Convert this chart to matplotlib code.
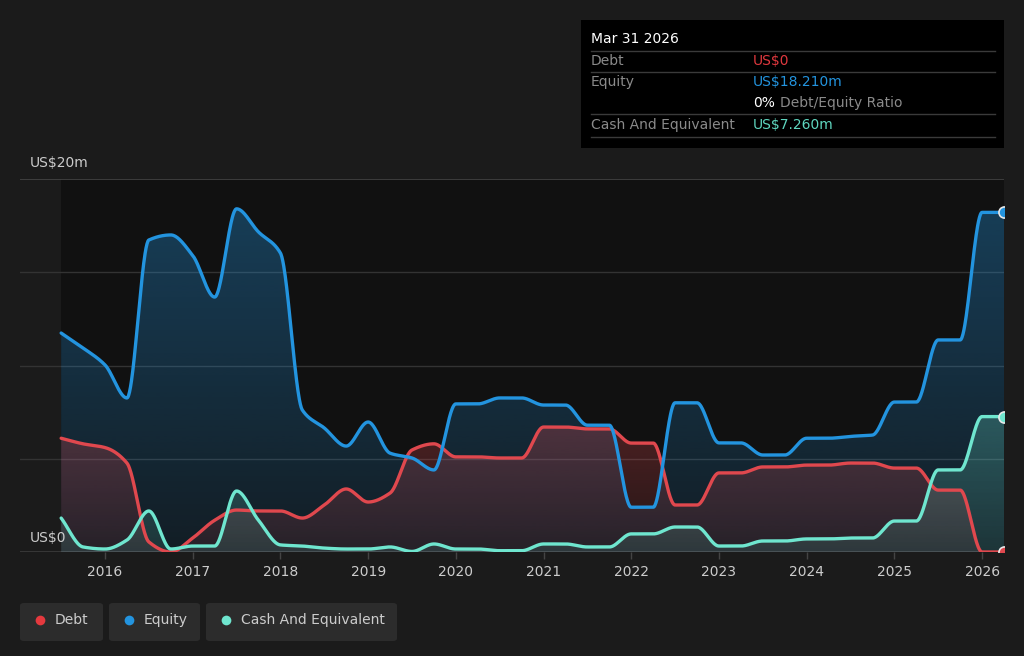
import numpy as np
import pandas as pd
import matplotlib
matplotlib.use("Agg")
import matplotlib.pyplot as plt
from matplotlib.colors import to_rgb
from matplotlib.patches import Rectangle, FancyBboxPatch
from matplotlib.lines import Line2D

# quarter ends, Jun 2015 .. Mar 2026
dates = pd.date_range("2015-06-30", "2026-03-31", freq="QE")

debt = [6.1, 5.8, 5.6, 4.77, 0.54, 0.0, 0.75, 1.7, 2.25, 2.2, 2.2, 1.82,
        2.52, 3.38, 2.68, 3.16, 5.47, 5.8, 5.1, 5.1, 5.04, 5.04, 6.7, 6.7,
        6.6, 6.6, 5.84, 5.84, 2.52, 2.52, 4.24, 4.24, 4.56, 4.56, 4.66, 4.66,
        4.77, 4.77, 4.5, 4.5, 3.32, 3.32, 0.0, 0.0]
equity = [11.74, 10.94, 10.03, 8.26, 16.73, 17.0, 15.9, 13.67, 18.4, 17.16,
          16.03, 7.61, 6.65, 5.68, 6.97, 5.3, 5.04, 4.4, 7.94, 7.94, 8.26, 8.26,
          7.88, 7.88, 6.8, 6.8, 2.4, 2.4, 8.0, 8.0, 5.85, 5.85, 5.2, 5.2, 6.1,
          6.1, 6.2, 6.27, 8.04, 8.04, 11.37, 11.37, 18.21, 18.21]
cash = [1.82, 0.27, 0.16, 0.64, 2.2, 0.16, 0.32, 0.32, 3.27, 1.7, 0.38, 0.32,
        0.21, 0.16, 0.16, 0.27, 0.03, 0.43, 0.16, 0.16, 0.07, 0.07, 0.43, 0.43,
        0.27, 0.27, 0.97, 0.97, 1.34, 1.34, 0.32, 0.32, 0.59, 0.59, 0.7, 0.7,
        0.75, 0.75, 1.66, 1.66, 4.4, 4.4, 7.26, 7.26]

year_ticks = list(range(2016, 2027))

DEBT_C = "#e0484e"
EQ_C = "#2394df"
CASH_C = "#6fe6cf"
BG = "#1b1b1b"
PLOT_BG = "#111111"


def pchip(x, y, xs):
    """monotone cubic interpolation (Fritsch-Carlson)"""
    x = np.asarray(x, float)
    y = np.asarray(y, float)
    h = np.diff(x)
    d = np.diff(y) / h
    n = len(x)
    m = np.zeros(n)
    m[0], m[-1] = d[0], d[-1]
    for k in range(1, n - 1):
        if d[k - 1] * d[k] > 0:
            w1 = 2 * h[k] + h[k - 1]
            w2 = h[k] + 2 * h[k - 1]
            m[k] = (w1 + w2) / (w1 / d[k - 1] + w2 / d[k])
    idx = np.clip(np.searchsorted(x, xs) - 1, 0, n - 2)
    t = (xs - x[idx]) / h[idx]
    h00 = 2 * t**3 - 3 * t**2 + 1
    h10 = t**3 - 2 * t**2 + t
    h01 = -2 * t**3 + 3 * t**2
    h11 = t**3 - t**2
    return h00 * y[idx] + h10 * h[idx] * m[idx] + h01 * y[idx + 1] + h11 * h[idx] * m[idx + 1]


def gradient_fill(ax, x, y, color, a_top, a_bot, z):
    poly = ax.fill_between(x, 0, y, facecolor="none", edgecolor="none", lw=0)
    grad = np.zeros((200, 1, 4))
    grad[:, :, :3] = to_rgb(color)
    grad[:, 0, 3] = np.linspace(a_top, a_bot, 200)
    im = ax.imshow(grad, extent=[x[0], x[-1], 0, max(y.max(), 0.01)],
                   origin="upper", aspect="auto", zorder=z, interpolation="bilinear")
    im.set_clip_path(poly.get_paths()[0], transform=ax.transData)


W, H = 1024, 656
fig = plt.figure(figsize=(W / 100, H / 100), dpi=100, facecolor=BG)


def px(x, y):
    return x / W, 1 - y / H


ax = fig.add_axes([20 / W, (H - 552) / H, 984 / W, (552 - 179) / H])
ax.set_facecolor(BG)

xq = dates.year + (dates.dayofyear - 1) / 365.0 + 0.0
xq = np.array(2015.5 + np.arange(len(dates)) * 0.25)
xs = np.linspace(xq[0], xq[-1], 2000)

ax.axvspan(xq[0], xq[-1], color=PLOT_BG, zorder=0, lw=0)
for v in [5, 10, 15]:
    ax.axhline(v, color="#333333", lw=1, zorder=1)
ax.axhline(20, color="#444444", lw=1.2, zorder=1)
ax.axhline(0, color="#3a3a3a", lw=2, zorder=1)

series = [(equity, EQ_C, 0.34, 0.10), (debt, DEBT_C, 0.28, 0.10), (cash, CASH_C, 0.25, 0.12)]
curves = {}
for i, (vals, col, at, ab) in enumerate(series):
    ys = np.clip(pchip(xq, vals, xs), 0, None)
    curves[col] = ys
    gradient_fill(ax, xs, ys, col, at, ab, 2 + i)

ax.plot(xs, curves[DEBT_C], color=DEBT_C, lw=2.4, zorder=6, solid_capstyle="round")
ax.plot(xs, curves[EQ_C], color=EQ_C, lw=2.4, zorder=7, solid_capstyle="round")
ax.plot(xs, curves[CASH_C], color=CASH_C, lw=2.4, zorder=8, solid_capstyle="round")

for vals, col in [(debt, DEBT_C), (equity, EQ_C), (cash, CASH_C)]:
    ax.plot([xq[-1]], [vals[-1]], "o", ms=8, mfc=col, mec="#e8e8e8", mew=1.2, zorder=9)

x_left = 2016 - 85 / 87.7
ax.set_xlim(x_left, xq[-1])
ax.set_ylim(0, 20)
ax.set_xticks(year_ticks)
ax.set_xticklabels([str(y) for y in year_ticks])
ax.tick_params(axis="x", colors="#444444", length=5, width=1, labelcolor="#cccccc",
               labelsize=10, pad=4)
ax.set_yticks([])
for s in ax.spines.values():
    s.set_visible(False)

fig.text(*px(30, 163), "US$20m", color="#cccccc", fontsize=10, va="center", ha="left")
fig.text(*px(30, 538), "US$0", color="#cccccc", fontsize=10, va="center", ha="left")

# tooltip box
fig.patches.append(Rectangle(px(581, 148), 423 / W, 128 / H, transform=fig.transFigure,
                             facecolor="#000000", edgecolor="none", zorder=10))
fig.text(*px(591, 39), "Mar 31 2026", color="#ffffff", fontsize=10, va="center", zorder=11)
for ly in [51, 72, 114, 137]:
    fig.add_artist(Line2D([591 / W, 995 / W], [1 - ly / H] * 2, color="#3a3a3a", lw=1, zorder=11))
fig.text(*px(591, 61), "Debt", color="#8a8a8a", fontsize=10, va="center", zorder=11)
fig.text(*px(753, 61), "US$0", color="#e0383e", fontsize=10, va="center", zorder=11)
fig.text(*px(591, 82), "Equity", color="#8a8a8a", fontsize=10, va="center", zorder=11)
fig.text(*px(753, 82), "US$18.210m", color="#2394df", fontsize=10, va="center", zorder=11)
t0 = fig.text(*px(753, 103), "0%", color="#ffffff", fontsize=10, va="center", zorder=11)
fig.text(*px(780, 103), "Debt/Equity Ratio", color="#8a8a8a", fontsize=10, va="center", zorder=11)
fig.text(*px(591, 125), "Cash And Equivalent", color="#8a8a8a", fontsize=10, va="center", zorder=11)
fig.text(*px(753, 125), "US$7.260m", color="#5fd6bf", fontsize=10, va="center", zorder=11)

# legend chips
legend = [("Debt", "#e5393e", 20, 103), ("Equity", "#2394df", 109, 200),
          ("Cash And Equivalent", "#6fe6cf", 206, 397)]
for label, col, x0, x1 in legend:
    fig.patches.append(FancyBboxPatch(px(x0, 641), (x1 - x0) / W, 38 / H,
                                      boxstyle="round,pad=0,rounding_size=0.004",
                                      transform=fig.transFigure, facecolor="#2c2c2c",
                                      edgecolor="none", zorder=10))
    fig.add_artist(Line2D([(x0 + 20) / W], [1 - 620 / H], marker="o", ms=7, color=col,
                          mec="none", zorder=11))
    fig.text(*px(x0 + 35, 620), label, color="#cccccc", fontsize=10, va="center", zorder=11)

fig.savefig("out.png", dpi=100, facecolor=BG)
